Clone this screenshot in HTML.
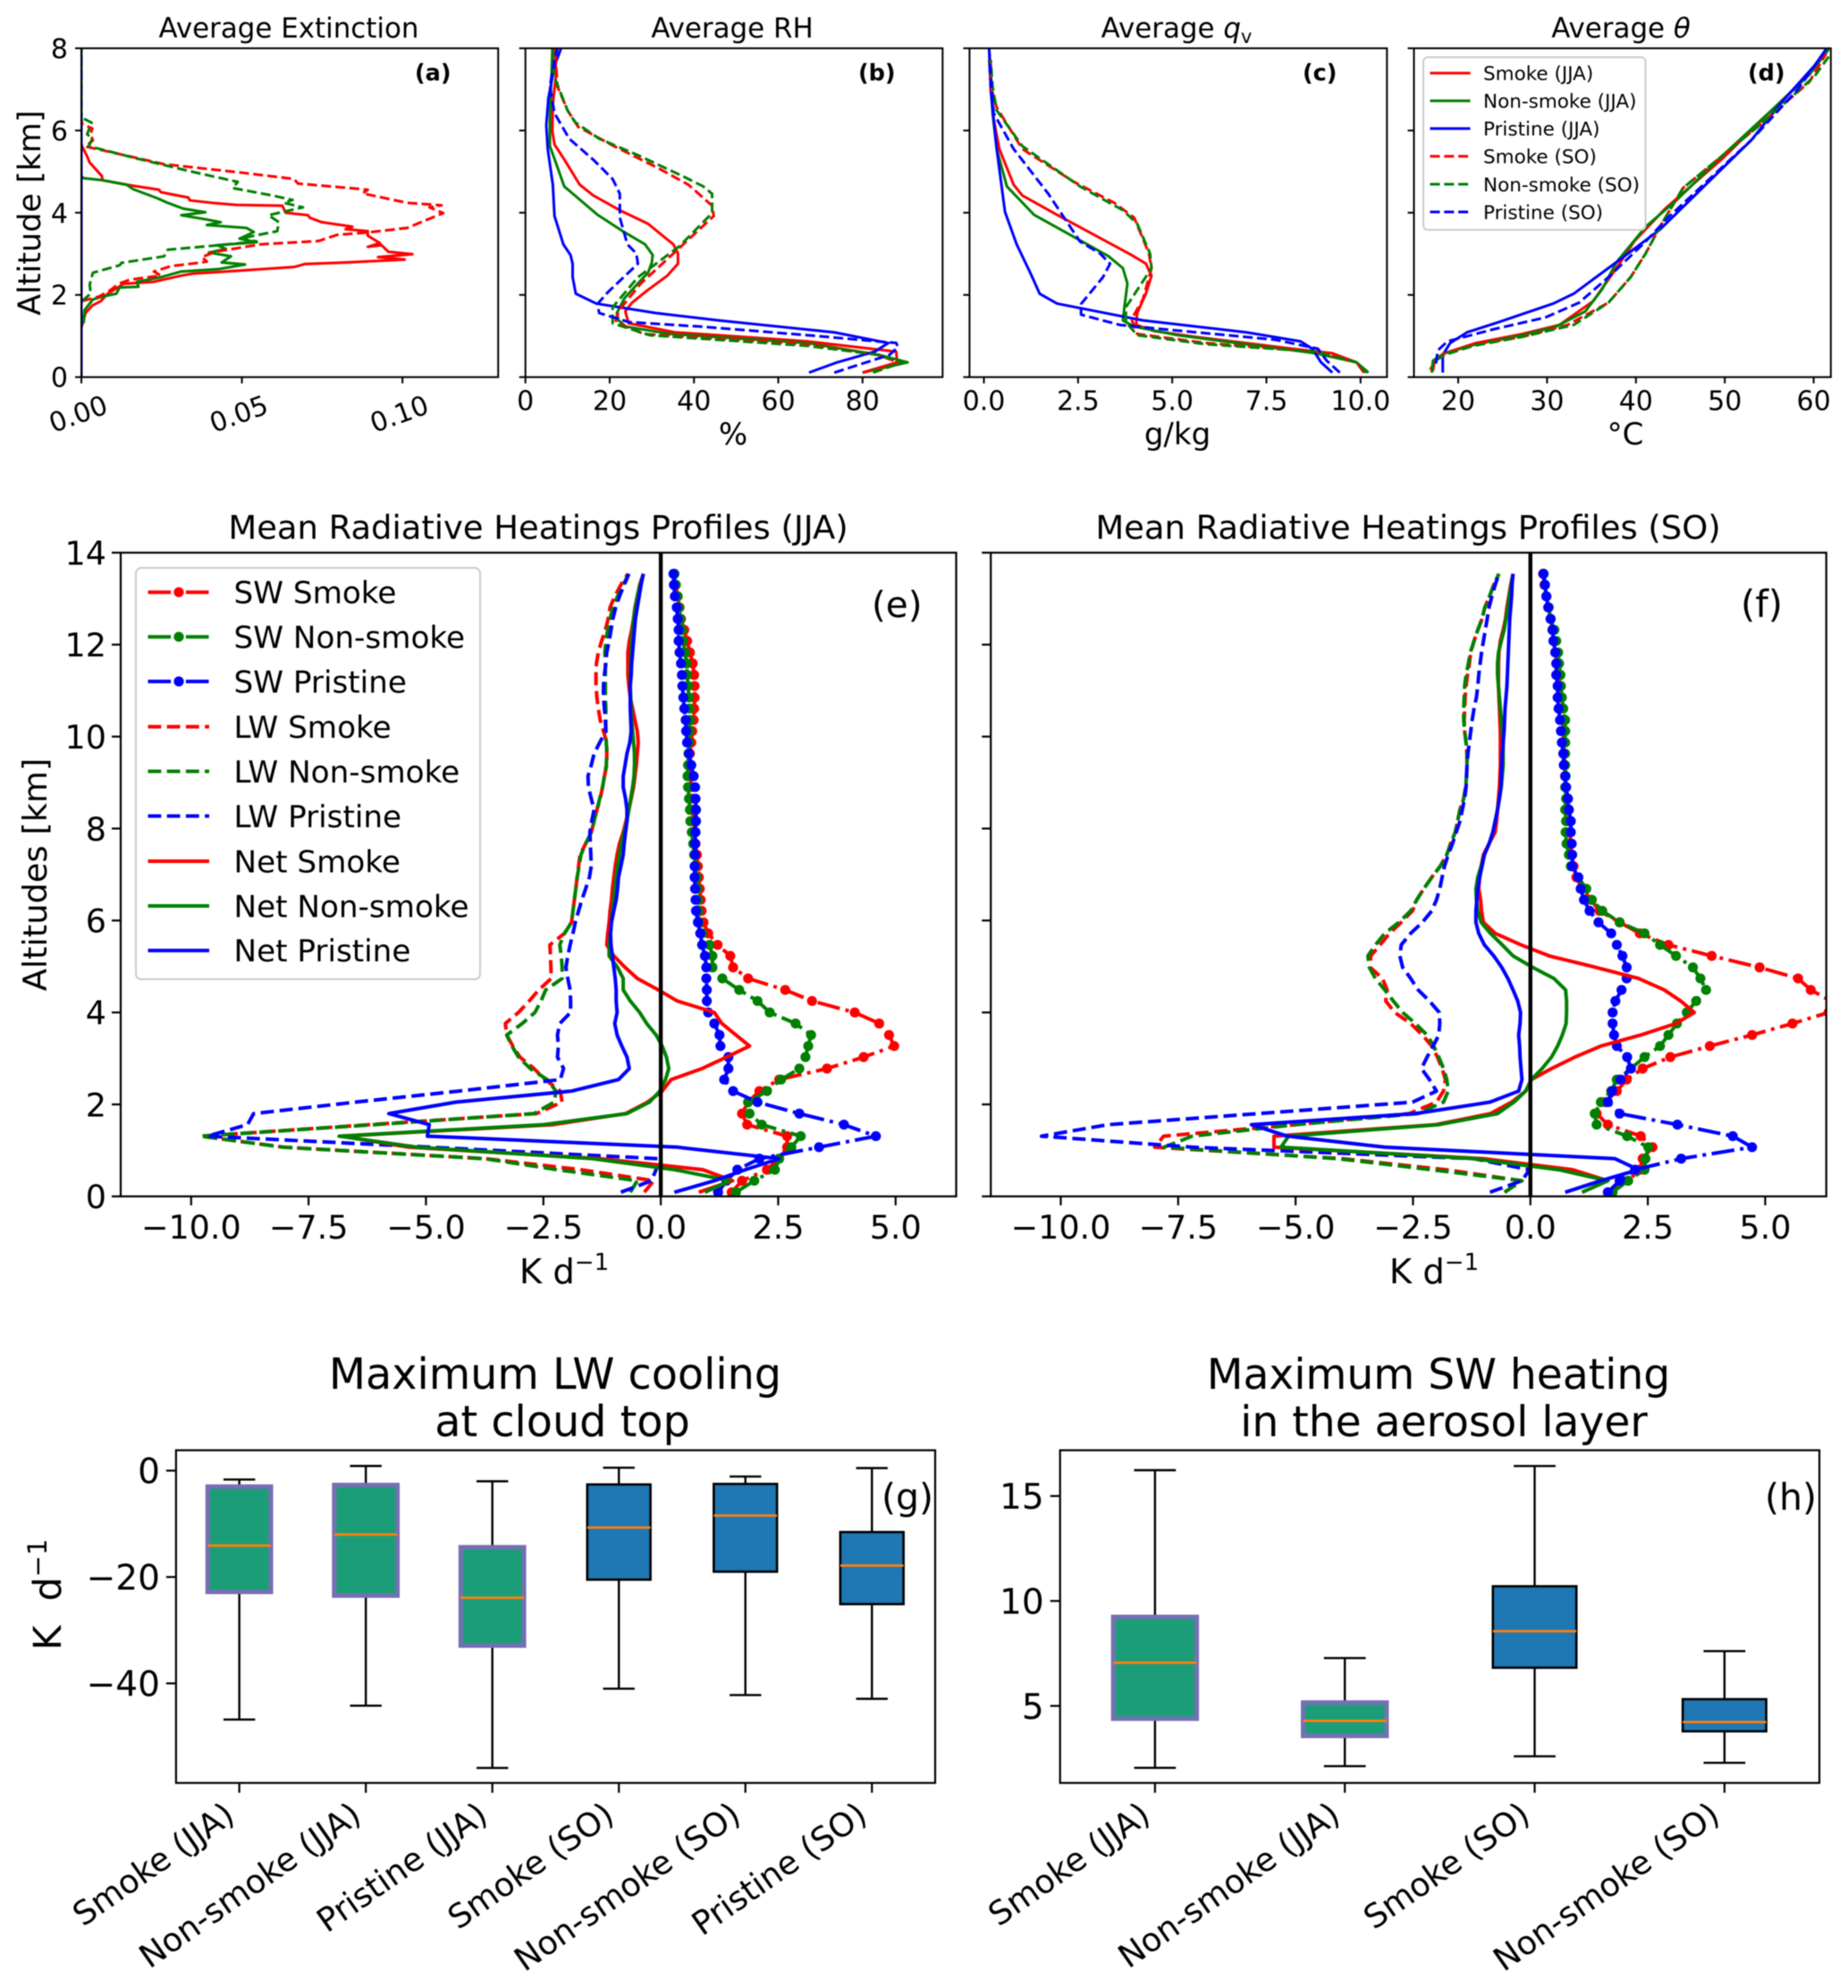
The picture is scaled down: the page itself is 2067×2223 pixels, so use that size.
<!DOCTYPE html>
<html lang="en">
<head>
<meta charset="utf-8">
<title>Aerosol, humidity and radiative heating profiles</title>
<style>
html,body{margin:0;padding:0;background:#fff;}
svg{display:block;filter:blur(0.6px);}
text{font-family:"DejaVu Sans","Liberation Sans",sans-serif;fill:#000;}
</style>
</head>
<body>
<svg id="figure" xmlns="http://www.w3.org/2000/svg" width="2067" height="2223" viewBox="0 0 2067 2223">
<rect width="2067" height="2223" fill="#fff"/>
<g id="charts"></g>

<g>
<text x="323" y="42" font-size="30.9" text-anchor="middle">Average Extinction</text>
<text x="819" y="42" font-size="30.9" text-anchor="middle">Average RH</text>
<text x="1316" y="42" font-size="30.9" text-anchor="middle">Average <tspan font-style="italic">q</tspan><tspan font-size="21" dy="6">v</tspan></text>
<text x="1813" y="42" font-size="30.9" text-anchor="middle">Average <tspan font-style="italic">θ</tspan></text>
<text x="602" y="602.5" font-size="36.9" text-anchor="middle">Mean Radiative Heatings Profiles (JJA)</text>
<text x="1575" y="602.5" font-size="36.9" text-anchor="middle">Mean Radiative Heatings Profiles (SO)</text>
<text x="621" y="1553" font-size="47.7" text-anchor="middle">Maximum LW cooling</text>
<text x="629" y="1606" font-size="47.7" text-anchor="middle">at cloud top</text>
<text x="1609" y="1553" font-size="47.2" text-anchor="middle">Maximum SW heating</text>
<text x="1615" y="1606" font-size="47.2" text-anchor="middle">in the aerosol layer</text>
</g>

<g>
<text transform="translate(45,238) rotate(-90)" font-size="35" text-anchor="middle">Altitude [km]</text>
<text x="820" y="497" font-size="34" text-anchor="middle">%</text>
<text x="1317" y="497" font-size="34" text-anchor="middle">g/kg</text>
<text x="1818" y="497" font-size="34" text-anchor="middle">°C</text>
<text transform="translate(52,978) rotate(-90)" font-size="36.8" text-anchor="middle">Altitudes [km]</text>
<text x="631" y="1435" font-size="38.5" text-anchor="middle">K d<tspan font-size="26" dy="-15">−1</tspan></text>
<text x="1604" y="1435" font-size="38.5" text-anchor="middle">K d<tspan font-size="26" dy="-15">−1</tspan></text>
<text transform="translate(68,1783) rotate(-90)" font-size="42.5" text-anchor="middle">K&#160;&#160;d<tspan font-size="29" dy="-16">−1</tspan></text>
</g>

<g>
<text x="464" y="90" font-size="25.5" font-weight="bold">(a)</text>
<text x="960" y="90" font-size="25.5" font-weight="bold">(b)</text>
<text x="1457" y="90" font-size="25.5" font-weight="bold">(c)</text>
<text x="1955" y="90" font-size="25.5" font-weight="bold">(d)</text>
<text x="975" y="690" font-size="40.5">(e)</text>
<text x="1947" y="690" font-size="41.5">(f)</text>
<text x="986" y="1688" font-size="41">(g)</text>
<text x="1974" y="1688" font-size="41">(h)</text>
</g>

<g>
<rect x="1592" y="64" width="248.5" height="193" rx="5" fill="#fff" fill-opacity="0.85" stroke="#ccc" stroke-width="2"/>
<g stroke-width="3" fill="none">
<line x1="1599.5" x2="1644.5" y1="81.7" y2="81.7" stroke="#ff0000"/>
<line x1="1599.5" x2="1644.5" y1="112.7" y2="112.7" stroke="#008000"/>
<line x1="1599.5" x2="1644.5" y1="143.7" y2="143.7" stroke="#0000ff"/>
<line x1="1599.5" x2="1644.5" y1="174.7" y2="174.7" stroke="#ff0000" stroke-dasharray="11 4.8"/>
<line x1="1599.5" x2="1644.5" y1="206" y2="206" stroke="#008000" stroke-dasharray="11 4.8"/>
<line x1="1599.5" x2="1644.5" y1="237" y2="237" stroke="#0000ff" stroke-dasharray="11 4.8"/>
</g>
<g font-size="21.5">
<text x="1659" y="89.5">Smoke (JJA)</text>
<text x="1659" y="120.5">Non-smoke (JJA)</text>
<text x="1659" y="151.5">Pristine (JJA)</text>
<text x="1659" y="182.5">Smoke (SO)</text>
<text x="1659" y="213.8">Non-smoke (SO)</text>
<text x="1659" y="244.8">Pristine (SO)</text>
</g>
</g>

<g>
<rect x="152" y="635" width="385" height="460" rx="6" fill="#fff" fill-opacity="0.85" stroke="#ccc" stroke-width="2"/>
<g stroke-width="4" fill="none">
<line x1="165.5" x2="234" y1="662.2" y2="662.2" stroke="#ff0000" stroke-dasharray="25.6 6.4 4 6.4"/>
<line x1="165.5" x2="234" y1="712.1" y2="712.1" stroke="#008000" stroke-dasharray="25.6 6.4 4 6.4"/>
<line x1="165.5" x2="234" y1="762" y2="762" stroke="#0000ff" stroke-dasharray="25.6 6.4 4 6.4"/>
<line x1="165.5" x2="234" y1="812.6" y2="812.6" stroke="#ff0000" stroke-dasharray="14.8 6.4"/>
<line x1="165.5" x2="234" y1="862.5" y2="862.5" stroke="#008000" stroke-dasharray="14.8 6.4"/>
<line x1="165.5" x2="234" y1="912.5" y2="912.5" stroke="#0000ff" stroke-dasharray="14.8 6.4"/>
<line x1="165.5" x2="234" y1="963" y2="963" stroke="#ff0000"/>
<line x1="165.5" x2="234" y1="1013" y2="1013" stroke="#008000"/>
<line x1="165.5" x2="234" y1="1062.9" y2="1062.9" stroke="#0000ff"/>
</g>
<circle cx="200" cy="662.2" r="5.6" fill="#ff0000"/>
<circle cx="200" cy="712.1" r="5.6" fill="#008000"/>
<circle cx="200" cy="762" r="5.6" fill="#0000ff"/>
<g font-size="34.2">
<text x="261.5" y="674.5">SW Smoke</text>
<text x="261.5" y="724.4">SW Non-smoke</text>
<text x="261.5" y="774.3">SW Pristine</text>
<text x="261.5" y="824.9">LW Smoke</text>
<text x="261.5" y="874.8">LW Non-smoke</text>
<text x="261.5" y="924.8">LW Pristine</text>
<text x="261.5" y="975.3">Net Smoke</text>
<text x="261.5" y="1025.3">Net Non-smoke</text>
<text x="261.5" y="1075.2">Net Pristine</text>
</g>
</g>
</svg>

<script>
// ---------- Panel (a) extinction ----------
const aSmokeJjaX = [0,.0013,.0034,.0061,.0082,.0114,.0130,.0226,.0311,.0349,.0493,.0663,.0695,.0823,.1007,.0924,.1031,.0956,.0935,.0892,.0930,.0892,.0892,.0823,.0844,.0748,.0711,.0706,.0636,.0626,.0482,.0407,.0338,.0333,.0247,.0242,.0157,.0066,.0064,.0026,.0018,.0002,0,0];
const aSmokeJjaAlt = [1.20,1.56,1.74,1.85,2.03,2.18,2.27,2.32,2.47,2.52,2.59,2.68,2.75,2.79,2.86,2.92,2.99,3.05,3.21,3.17,3.26,3.44,3.55,3.60,3.66,3.77,3.88,3.94,4.00,4.17,4.19,4.24,4.30,4.37,4.50,4.56,4.66,4.79,4.89,5.22,5.37,5.62,5.69,8];
const aNonJjaX = [.0007,.0010,.0036,.0066,.0109,.0119,.0178,.0173,.0247,.0311,.0429,.0510,.0437,.0466,.0397,.0450,.0423,.0546,.0493,.0537,.0514,.0391,.0434,.0386,.0311,.0386,.0317,.0269,.0237,.0162,.0141,.0066,.0007,0,0];
const aNonJjaAlt = [1.31,1.63,1.89,1.96,2.03,2.18,2.20,2.32,2.43,2.57,2.63,2.74,2.79,2.94,3.03,3.12,3.21,3.28,3.37,3.53,3.63,3.70,3.77,3.84,3.94,4.01,4.10,4.24,4.35,4.57,4.68,4.79,4.84,4.89,8];
const aPriJjaX = [0,0];
const aPriJjaAlt = [0,8];
const aSmokeSoX = [.0002,.0055,.0087,.0119,.0151,.0247,.0226,.0279,.0365,.0391,.0375,.0418,.0557,.0738,.0796,.0892,.1015,.1058,.1127,.1084,.1122,.1015,.0876,.0892,.0674,.0663,.0493,.0258,.0151,.0013,.0036,.0029,.0034,.0002,0,0];
const aSmokeSoAlt = [1.85,1.96,2.10,2.28,2.37,2.47,2.57,2.70,2.78,2.81,2.92,3.05,3.23,3.31,3.46,3.52,3.63,3.77,3.99,4.13,4.18,4.24,4.47,4.56,4.71,4.82,4.98,5.18,5.37,5.61,5.76,5.91,6.05,6.16,6.27,8];
const aNonSoX = [.0002,.0029,.0026,.0036,.0119,.0125,.0258,.0269,.0429,.0546,.0493,.0610,.0615,.0583,.0690,.0631,.0658,.0594,.0471,.0487,.0343,.0167,.0023,.0034,.0018,.0032,.0002,0,0];
const aNonSoAlt = [1.85,2.03,2.25,2.54,2.72,2.78,2.94,3.10,3.21,3.30,3.37,3.55,3.77,3.94,4.13,4.24,4.31,4.42,4.60,4.75,5.00,5.33,5.62,5.80,5.91,6.19,6.31,6.42,8];
const aPriSoX = [0,0];
const aPriSoAlt = [0,8];
const aXTicks = [0,0.05,0.1];
const aXTickLabels = ['0.00','0.05','0.10'];
const altitudeTicks = [0,2,4,6,8];
const altitudeTickLabels = ['0','2','4','6','8'];

// ---------- Panel (b) RH ----------
const bSmokeJjaX = [80,88.2,88,67,35.5,24.5,23.7,25.3,28.8,33.7,36.2,36.2,35.1,29.1,22.4,16.1,12.9,9,6.9,6.4,6.5,7.2,7.2,6.9];
const bSmokeJjaAlt = [.11,.36,.62,.87,1.09,1.31,1.6,1.81,2.10,2.47,2.76,3.01,3.23,3.73,4.06,4.42,4.68,5.33,5.66,5.98,6.64,7.29,7.72,7.98];
const bNonJjaX = [80,90.7,83.9,67,34.4,23.8,22.1,21.7,23.5,26.7,29.1,30,30.2,28.4,23.1,17.1,9.2,7.6,5.8,5.8,6.2,6.4];
const bNonJjaAlt = [.11,.36,.54,.83,1.05,1.23,1.38,1.56,1.92,2.28,2.54,2.79,2.97,3.23,3.55,3.95,4.64,5.11,5.62,6.27,7.36,7.98];
const bPriJjaX = [67.3,74,82.9,86.1,73.3,45.8,30.9,16.8,11.95,11.2,11.2,10.7,9,6.9,6.5,5.3,4.95,5.45,6.9,8.4];
const bPriJjaAlt = [.11,.36,.62,.83,1.09,1.38,1.56,1.79,2.03,2.43,2.76,2.97,3.23,3.92,4.68,5.55,6.13,6.78,7.58,7.98];
const bSmokeSoX = [80,88.5,83.6,67,28.1,21.4,21.7,22.8,27.4,35.9,44.7,44.3,38.7,31.6,21,12.5,10,7.6,7.2,6.9];
const bSmokeSoAlt = [.11,.36,.54,.80,1.05,1.34,1.49,1.70,2.28,3.08,3.92,4.17,4.68,5.08,5.62,6.09,6.49,7.07,7.72,7.98];
const bNonSoX = [82.5,89.6,83.9,67,29.5,20.7,20.7,26.7,36.6,44.3,44.3,42.2,37.3,26.7,17.5,11.8,10,6.9,6.4,6.7];
const bNonSoAlt = [.11,.36,.54,.76,1.02,1.31,1.70,2.43,3.19,3.99,4.46,4.64,4.89,5.40,5.80,6.20,6.49,7.29,7.72,7.98];
const bPriSoX = [73.3,86.4,88.4,88,67,41.5,24.5,17.5,17.1,19.6,26.7,26.3,24.2,22.4,22.4,20.7,16.1,10.4,6.9,5.8,6.9,7.6];
const bPriSoAlt = [.11,.54,.73,.83,1.02,1.23,1.34,1.56,1.78,2.07,2.76,3.01,3.23,3.88,4.46,4.82,5.29,5.80,6.42,7.07,7.72,7.98];
const bXTicks = [0,20,40,60,80];
const bXTickLabels = ['0','20','40','60','80'];

// ---------- Panel (c) qv ----------
const cSmokeJjaX = [10.12,9.89,9.25,8.19,5.6,4.53,4.04,4.07,4.3,4.45,4.3,3.92,1.94,1.02,.79,.41,.26,.14];
const cSmokeJjaAlt = [.11,.36,.58,.69,.98,1.12,1.27,1.56,2.03,2.47,2.76,2.97,3.95,4.42,4.68,5.55,6.27,7.98];
const cNonJjaX = [10.21,9.89,8.8,5.14,3.99,3.69,3.73,3.81,3.69,3.31,2.47,1.33,.61,.34,.23,.14];
const cNonJjaAlt = [.11,.36,.58,1.02,1.23,1.38,1.70,2.28,2.65,2.94,3.37,3.95,4.64,5.55,6.42,7.72];
const cPriJjaX = [9.25,8.95,8.72,8.41,6.97,4.22,1.94,1.48,1.25,.87,.56,.34,.18,.14];
const cPriJjaAlt = [.11,.36,.69,.87,1.09,1.38,1.79,2.03,2.50,3.23,4.02,5.55,7.0,7.98];
const cSmokeSoX = [10.09,9.89,8.8,5.9,4.07,3.92,4.22,4.45,4.38,3.99,3.46,2.39,1.02,.34,.18,.18];
const cSmokeSoAlt = [.11,.36,.62,.83,1.05,1.41,1.89,2.65,3.01,3.88,4.24,4.75,5.55,6.56,7.07,7.72];
const cNonSoX = [10.17,9.89,8.8,5.9,4.07,3.77,3.77,4.45,4.41,4.07,3.69,2.55,1.02,.34,.23,.18];
const cNonSoAlt = [.11,.36,.62,.80,1.02,1.34,1.70,2.65,3.01,3.73,4.06,4.64,5.62,6.49,7.07,7.72];
const cPriSoX = [9.45,9.10,8.87,7.73,4.83,3.61,2.58,2.58,3.16,3.35,3.08,2.55,1.71,.79,.26,.18,.14];
const cPriSoAlt = [.11,.40,.69,.91,1.16,1.27,1.52,1.78,2.43,2.76,3.01,3.30,4.46,5.55,6.42,7.36,7.98];
const cXTicks = [0,2.5,5,7.5,10];
const cXTickLabels = ['0.0','2.5','5.0','7.5','10.0'];

// ---------- Panel (d) theta ----------
const dSmokeJjaX = [17.16,17.35,18.45,22,27.2,31.4,35.2,37.8,39.8,43.3,49.8,55.6,59.5,61.7];
const dSmokeJjaAlt = [.15,.40,.58,.83,1.05,1.27,1.85,2.65,3.30,4.10,5.33,6.56,7.36,7.98];
const dNonJjaX = [17.03,17.16,18.45,22,27.2,31,34.3,36.2,37.8,41.1,44.6,49.1,55.6,59.5,61.7];
const dNonJjaAlt = [.11,.40,.58,.80,1.02,1.23,1.60,2.14,2.79,3.66,4.31,5.26,6.56,7.36,7.98];
const dPriJjaX = [18.26,18.26,19.1,21,24.6,30.7,33,38.2,42.7,48.5,53,56.2,60.1,61.4];
const dPriJjaAlt = [.11,.54,.83,1.09,1.34,1.79,2.03,2.86,3.59,4.82,5.77,6.64,7.58,7.98];
const dSmokeSoX = [16.84,17.35,18.45,21.7,27.2,32.3,36.9,39.4,41.1,42.7,45.3,54.3,59.5,61.4];
const dSmokeSoAlt = [.18,.36,.58,.80,.98,1.27,1.81,2.43,3.01,3.66,4.60,6.20,7.18,7.87];
const dNonSoX = [17.03,17.16,18.45,21.7,27.2,33,36.9,39.4,41.1,42.7,45.3,54.3,60.1,61.7];
const dNonSoAlt = [.11,.36,.54,.76,.98,1.27,1.81,2.43,3.01,3.66,4.60,6.20,7.32,7.80];
const dPriSoX = [17.5,17.7,18.8,23.9,29.8,33.6,36.9,41.1,43.6,53,58.2,61.1];
const dPriSoAlt = [.33,.65,.87,1.16,1.45,1.81,2.43,3.30,3.88,5.77,7,7.87];
const dXTicks = [20,30,40,50,60];
const dXTickLabels = ['20','30','40','50','60'];

// ---------- Panels (e)(f) heating rates, one value per model level ----------
const levels = [.09,.34,.58,.82,1.07,1.31,1.56,1.80,2.05,2.29,
2.54,2.78,3.03,3.27,3.51,3.76,4.00,4.25,4.49,4.74,
4.98,5.23,5.47,5.72,5.96,6.21,6.45,6.69,6.94,7.18,
7.43,7.67,7.92,8.16,8.41,8.65,8.90,9.14,9.38,9.63,
9.87,10.12,10.36,10.61,10.85,11.10,11.34,11.59,11.83,12.08,
12.32,12.56,12.81,13.05,13.30,13.54];
const eSwSmoke = [1.51,1.73,2.26,2.52,2.69,2.69,1.84,1.73,1.86,2.10,
2.52,3.54,4.32,4.97,4.86,4.65,4.13,3.22,2.65,1.86,
1.54,1.48,1.21,1.01,.91,.87,.85,.83,.81,.79,
.77,.74,.72,.70,.68,.66,.65,.63,.62,.62,
.65,.67,.70,.71,.72,.72,.71,.68,.62,.56,
.50,.43,.40,.36,.32,.29];
const eSwNon = [1.60,1.99,2.43,2.52,2.78,2.98,2.15,1.89,1.86,2.26,
2.56,2.95,3.08,3.14,3.20,2.87,2.32,2.06,1.67,1.31,
1.10,1.10,1.04,.88,.81,.80,.79,.78,.76,.74,
.71,.69,.66,.63,.62,.60,.58,.57,.58,.59,
.60,.61,.62,.61,.60,.58,.56,.55,.52,.47,
.45,.42,.39,.36,.32,.29];
const eSwPri = [1.22,1.40,1.63,2.10,3.37,4.58,3.90,2.95,2.06,1.54,
1.35,1.44,1.44,1.27,1.25,1.14,1.01,.98,.98,.97,
.97,.94,.88,.84,.79,.75,.74,.73,.72,.72,
.73,.73,.74,.75,.75,.74,.73,.70,.65,.60,
.56,.54,.53,.50,.48,.46,.45,.43,.40,.38,
.38,.36,.34,.30,.28,.27];
const eLwSmoke = [-.35,-.15,-1.7,-3.73,-8.04,-9.78,-6.2,-2.65,-2.1,-2.14,
-2.46,-2.7,-3.0,-3.15,-3.28,-3.31,-3.03,-2.8,-2.6,-2.33,
-2.34,-2.35,-2.36,-2.05,-1.9,-1.87,-1.84,-1.81,-1.78,-1.75,
-1.72,-1.6,-1.48,-1.42,-1.36,-1.29,-1.24,-1.2,-1.15,-1.15,
-1.15,-1.22,-1.29,-1.33,-1.36,-1.38,-1.38,-1.37,-1.33,-1.26,
-1.18,-1.12,-1.08,-.98,-.85,-.7];
const eLwNon = [-.65,-.5,-2.2,-3.75,-8.04,-9.8,-6.1,-2.7,-2.27,-2.23,
-2.42,-2.78,-3.03,-3.17,-3.28,-2.95,-2.68,-2.55,-2.45,-2.1,
-2.1,-2.12,-2.15,-2.05,-1.9,-1.87,-1.84,-1.81,-1.78,-1.74,
-1.7,-1.6,-1.48,-1.42,-1.36,-1.3,-1.24,-1.2,-1.16,-1.15,
-1.16,-1.17,-1.17,-1.17,-1.18,-1.18,-1.18,-1.18,-1.19,-1.17,
-1.13,-1.08,-1.02,-.92,-.8,-.68];
const eLwPri = [-.85,-.2,-.1,-.05,-4.9,-9.65,-8.8,-8.67,-6.5,-4.3,
-2.14,-2.07,-2.2,-2.18,-2.2,-2.15,-1.92,-1.92,-1.93,-1.98,
-2.02,-1.98,-1.93,-1.87,-1.82,-1.75,-1.68,-1.6,-1.52,-1.48,
-1.49,-1.5,-1.51,-1.47,-1.42,-1.48,-1.54,-1.55,-1.48,-1.42,
-1.3,-1.17,-1.18,-1.2,-1.22,-1.22,-1.2,-1.17,-1.15,-1.1,
-1.06,-1.02,-.96,-.88,-.78,-.68];
const eNetSmoke = [.81,1.53,.9,-1.3,-5.37,-6.8,-2.3,-.75,-.28,.03,
.22,.88,1.4,1.89,1.6,1.3,1.14,.35,-.05,-.5,
-.76,-1.0,-1.15,-1.13,-1.1,-1.08,-1.05,-1.03,-1.0,-.97,
-.93,-.88,-.8,-.74,-.68,-.63,-.58,-.55,-.52,-.5,
-.48,-.5,-.55,-.6,-.65,-.68,-.7,-.7,-.7,-.67,
-.62,-.58,-.55,-.5,-.45,-.37];
const eNetNon = [.94,1.47,.3,-1.45,-5.2,-6.85,-2.5,-.72,-.24,-.02,
.1,.17,.12,.03,-.1,-.3,-.45,-.65,-.8,-.8,
-.92,-1.1,-1.1,-1.07,-1.05,-1.03,-1.0,-.98,-.95,-.92,
-.88,-.84,-.78,-.72,-.68,-.64,-.6,-.57,-.56,-.56,
-.58,-.6,-.62,-.63,-.64,-.65,-.65,-.64,-.63,-.62,
-.6,-.58,-.54,-.5,-.44,-.37];
const eNetPri = [.29,1.14,1.8,2.52,.35,-4.97,-4.93,-5.79,-4.36,-1.9,
-.9,-.67,-.72,-.83,-.93,-.98,-.93,-.95,-.95,-.97,
-1.0,-1.03,-1.06,-1.07,-1.05,-1.0,-.95,-.92,-.9,-.85,
-.8,-.78,-.75,-.72,-.72,-.75,-.8,-.8,-.76,-.72,
-.66,-.63,-.64,-.65,-.65,-.65,-.63,-.62,-.6,-.58,
-.56,-.54,-.5,-.46,-.42,-.37];
const fSwSmoke = [1.65,2.08,2.33,2.39,2.6,2.35,1.65,1.41,1.59,1.84,
2.05,2.39,2.98,3.82,4.72,5.58,6.35,6.4,5.97,5.7,
4.88,3.86,2.94,2.33,1.9,1.47,1.29,1.1,.98,.92,
.88,.86,.84,.82,.8,.78,.76,.74,.73,.72,
.71,.7,.69,.67,.65,.63,.6,.57,.53,.5,
.47,.43,.38,.34,.3,.27];
const fSwNon = [1.75,2.08,2.43,2.45,2.51,2.06,1.41,1.37,1.5,1.72,
1.84,2.14,2.43,2.76,2.94,3.12,3.33,3.53,3.74,3.62,
3.46,3.1,2.76,2.43,1.9,1.53,1.31,1.19,1.02,.86,
.82,.77,.75,.76,.74,.76,.74,.75,.74,.74,
.74,.74,.74,.7,.67,.65,.64,.61,.59,.55,
.51,.43,.39,.34,.31,.28];
const fSwPri = [1.65,1.9,2.23,3.21,4.72,4.31,3.13,1.9,1.65,1.74,
1.92,2.14,2.06,1.84,1.78,1.75,1.75,1.81,1.94,2.05,
2.05,1.96,1.84,1.72,1.45,1.26,1.14,1.07,1.02,.89,
.89,.88,.86,.86,.82,.8,.76,.74,.71,.7,
.67,.65,.63,.6,.58,.58,.55,.55,.53,.49,
.47,.43,.38,.34,.31,.28];
const fLwSmoke = [-.55,-.18,-1.8,-4.0,-8.0,-7.81,-5.0,-2.58,-2.0,-1.85,
-1.81,-1.88,-1.98,-2.1,-2.3,-2.55,-2.89,-3.08,-3.05,-3.15,
-3.41,-3.4,-3.2,-3.0,-2.75,-2.51,-2.42,-2.27,-2.1,-1.92,
-1.78,-1.7,-1.6,-1.55,-1.5,-1.42,-1.38,-1.36,-1.35,-1.35,
-1.37,-1.4,-1.41,-1.4,-1.39,-1.37,-1.34,-1.3,-1.27,-1.2,
-1.12,-1.03,-.97,-.87,-.78,-.67];
const fLwNon = [-.55,-.18,-2.1,-4.1,-7.8,-7.2,-5.0,-2.4,-1.85,-1.75,
-1.78,-1.85,-1.95,-2.06,-2.2,-2.45,-2.72,-2.92,-3.1,-3.3,
-3.43,-3.46,-3.3,-3.1,-2.8,-2.55,-2.42,-2.27,-2.1,-1.92,
-1.78,-1.7,-1.6,-1.55,-1.5,-1.42,-1.38,-1.36,-1.35,-1.35,
-1.37,-1.4,-1.42,-1.42,-1.41,-1.4,-1.37,-1.32,-1.28,-1.2,
-1.12,-1.03,-.97,-.87,-.78,-.67];
const fLwPri = [-.86,-.18,-.02,-1.2,-7.2,-10.41,-8.99,-5.8,-2.51,-2.0,
-2.15,-2.32,-2.2,-2.07,-1.95,-1.93,-1.94,-2.15,-2.39,-2.55,
-2.72,-2.78,-2.75,-2.55,-2.3,-2.1,-2.0,-1.93,-1.88,-1.83,
-1.75,-1.66,-1.58,-1.5,-1.45,-1.4,-1.37,-1.36,-1.35,-1.33,
-1.3,-1.27,-1.24,-1.2,-1.15,-1.12,-1.1,-1.07,-1.04,-1.0,
-.96,-.92,-.88,-.82,-.75,-.67];
const fNetSmoke = [1.1,1.65,.9,-1.0,-5.46,-5.46,-2.02,-.85,-.4,-.1,
.02,.45,.95,1.5,2.35,3.1,3.49,3.2,2.85,2.3,
1.4,.4,-.2,-.75,-1.0,-1.04,-1.06,-1.1,-1.08,-1.05,
-1.0,-.88,-.75,-.72,-.7,-.68,-.66,-.65,-.64,-.64,
-.64,-.64,-.65,-.66,-.67,-.68,-.68,-.68,-.67,-.64,
-.58,-.53,-.5,-.46,-.42,-.37];
const fNetNon = [1.1,1.65,.6,-1.2,-5.31,-5.15,-1.95,-.7,-.35,-.1,
.02,.25,.45,.58,.68,.76,.77,.77,.75,.5,
.05,-.37,-.6,-.85,-1.05,-1.12,-1.15,-1.16,-1.12,-1.05,
-.98,-.88,-.8,-.75,-.7,-.66,-.62,-.6,-.58,-.58,
-.58,-.6,-.62,-.64,-.66,-.68,-.7,-.7,-.68,-.62,
-.56,-.52,-.48,-.45,-.41,-.37];
const fNetPri = [.74,1.5,2.3,1.8,-3.1,-5.18,-5.94,-2.45,-.86,-.25,
-.18,-.2,-.22,-.23,-.25,-.22,-.21,-.27,-.37,-.48,
-.61,-.78,-.98,-1.1,-1.16,-1.16,-1.14,-1.12,-1.08,-1.03,
-.98,-.88,-.8,-.75,-.7,-.66,-.63,-.62,-.61,-.6,
-.58,-.56,-.55,-.54,-.52,-.5,-.49,-.48,-.47,-.46,
-.45,-.44,-.42,-.4,-.39,-.37];
const heatingXTicks = [-10,-7.5,-5,-2.5,0,2.5,5];
const heatingXTickLabels = ['−10.0','−7.5','−5.0','−2.5','0.0','2.5','5.0'];
const heatingYTicks = [0,2,4,6,8,10,12,14];
const heatingYTickLabels = ['0','2','4','6','8','10','12','14'];

// ---------- Panel (g) LW cooling boxes ----------
const gCategories = ['Smoke (JJA)','Non-smoke (JJA)','Pristine (JJA)','Smoke (SO)','Non-smoke (SO)','Pristine (SO)'];
const gSeasons = ['JJA','JJA','JJA','SO','SO','SO'];
const gWhiskerHigh = [-1.67,.88,-2,.56,-1.1,.48];
const gQ3 = [-3.0,-2.7,-14.4,-2.6,-2.5,-11.55];
const gMedian = [-14.1,-12,-23.9,-10.7,-8.45,-17.85];
const gQ1 = [-22.8,-23.5,-32.9,-20.5,-19,-25.1];
const gWhiskerLow = [-46.8,-44.2,-55.9,-41,-42.2,-42.9];
const gYTicks = [0,-20,-40];
const gYTickLabels = ['0','−20','−40'];

// ---------- Panel (h) SW heating boxes ----------
const hCategories = ['Smoke (JJA)','Non-smoke (JJA)','Smoke (SO)','Non-smoke (SO)'];
const hSeasons = ['JJA','JJA','SO','SO'];
const hWhiskerHigh = [16.23,7.28,16.43,7.61];
const hQ3 = [9.24,5.16,10.7,5.32];
const hMedian = [7.06,4.29,8.56,4.23];
const hQ1 = [4.39,3.57,6.82,3.79];
const hWhiskerLow = [2.05,2.13,2.6,2.29];
const hYTicks = [5,10,15];
const hYTickLabels = ['5','10','15'];

// ---------- Drawing ----------
const SVGNS = 'http://www.w3.org/2000/svg';
const root = document.getElementById('charts');
const RED = '#ff0000', GREEN = '#008000', BLUE = '#0000ff';

function mk(parent, tag, attrs, name) {
  const el = document.createElementNS(SVGNS, tag);
  for (const k in attrs) el.setAttribute(k, attrs[k]);
  
  
  parent.appendChild(el);
  return el;
}
function scale(d0, d1, p0, p1) { return v => p0 + (v - d0) / (d1 - d0) * (p1 - p0); }

function makePanel(id, box, xDomain, yDomain) {
  const g = mk(root, 'g', {}, 'panel-' + id);
  const defs = mk(g, 'defs', {}, 'panel-' + id + '-defs');
  const clip = mk(defs, 'clipPath', {id: 'clip-' + id}, 'panel-' + id + '-clip');
  mk(clip, 'rect', {x: box.l, y: box.t, width: box.r - box.l, height: box.b - box.t}, 'panel-' + id + '-clip-rect');
  const plot = mk(g, 'g', {'clip-path': 'url(#clip-' + id + ')'}, 'panel-' + id + '-plot');
  return {id, g, plot, box, x: scale(xDomain[0], xDomain[1], box.l, box.r), y: scale(yDomain[0], yDomain[1], box.b, box.t)};
}
function finishPanel(p, opt) {
  const b = p.box, len = opt.tickLen, sw = opt.spine;
  mk(p.g, 'rect', {x: b.l, y: b.t, width: b.r - b.l, height: b.b - b.t, fill: 'none', stroke: '#000', 'stroke-width': sw}, 'panel-' + p.id + '-frame');
  (opt.xTicks || []).forEach((v, i) => {
    const px = p.x(v);
    mk(p.g, 'line', {x1: px, x2: px, y1: b.b, y2: b.b + len, stroke: '#000', 'stroke-width': sw}, 'panel-' + p.id + '-x-tick');
    const lab = opt.xLabels[i];
    if (opt.xRotate) {
      const t = mk(p.g, 'text', {transform: 'translate(' + (px + opt.xDx) + ',' + (b.b + opt.xDy) + ') rotate(' + opt.xRotate + ')', 'font-size': opt.xTickSize || opt.tickSize, 'text-anchor': opt.xAnchor}, 'panel-' + p.id + '-x-tick-label');
      t.textContent = lab;
    } else {
      const t = mk(p.g, 'text', {x: px, y: b.b + opt.xDy, 'font-size': opt.tickSize, 'text-anchor': 'middle'}, 'panel-' + p.id + '-x-tick-label');
      t.textContent = lab;
    }
  });
  (opt.yTicks || []).forEach((v, i) => {
    const py = p.y(v);
    mk(p.g, 'line', {x1: b.l - len, x2: b.l, y1: py, y2: py, stroke: '#000', 'stroke-width': sw}, 'panel-' + p.id + '-y-tick');
    if (opt.yLabels) {
      const t = mk(p.g, 'text', {x: b.l - len - opt.yGap, y: py + opt.tickSize * 0.364, 'font-size': opt.tickSize, 'text-anchor': 'end'}, 'panel-' + p.id + '-y-tick-label');
      t.textContent = opt.yLabels[i];
    }
  });
}
function drawLine(p, xs, ys, color, lw, dash, name) {
  const n = Math.min(xs.length, ys.length);
  let d = '';
  for (let i = 0; i < n; i++) d += (i ? 'L' : 'M') + p.x(xs[i]).toFixed(2) + ' ' + p.y(ys[i]).toFixed(2);
  const attrs = {d, fill: 'none', stroke: color, 'stroke-width': lw, 'stroke-linejoin': 'round'};
  if (dash) attrs['stroke-dasharray'] = dash;
  return mk(p.plot, 'path', attrs, name);
}
function drawMarkers(p, xs, ys, color, r, name) {
  const n = Math.min(xs.length, ys.length);
  for (let i = 0; i < n; i++) {
    mk(p.plot, 'circle', {cx: p.x(xs[i]).toFixed(2), cy: p.y(ys[i]).toFixed(2), r, fill: color}, name + '-point');
  }
}

// Profile panels (a)-(d)
const PROFILE_LW = 3, PROFILE_DASH = '11 4.8';
function profilePanel(id, box, xDomain, s, tickOpt) {
  const p = makePanel(id, box, xDomain, [0, 8]);
  drawLine(p, s[0][0], s[0][1], RED, PROFILE_LW, null, id + '-smoke-jja-line');
  drawLine(p, s[1][0], s[1][1], GREEN, PROFILE_LW, null, id + '-non-smoke-jja-line');
  drawLine(p, s[2][0], s[2][1], BLUE, PROFILE_LW, null, id + '-pristine-jja-line');
  drawLine(p, s[3][0], s[3][1], RED, PROFILE_LW, PROFILE_DASH, id + '-smoke-so-line');
  drawLine(p, s[4][0], s[4][1], GREEN, PROFILE_LW, PROFILE_DASH, id + '-non-smoke-so-line');
  drawLine(p, s[5][0], s[5][1], BLUE, PROFILE_LW, PROFILE_DASH, id + '-pristine-so-line');
  finishPanel(p, Object.assign({tickLen: 7, spine: 2, tickSize: 30, yTicks: altitudeTicks, xDy: 37}, tickOpt));
}
const topBox = {t: 54, b: 421.7};
profilePanel('a', {l: 91, r: 557.2, t: topBox.t, b: topBox.b}, [0, 0.1298],
  [[aSmokeJjaX, aSmokeJjaAlt],[aNonJjaX, aNonJjaAlt],[aPriJjaX, aPriJjaAlt],[aSmokeSoX, aSmokeSoAlt],[aNonSoX, aNonSoAlt],[aPriSoX, aPriSoAlt]],
  {xTicks: aXTicks, xLabels: aXTickLabels, xRotate: -20, xDx: 0, xDy: 51, xAnchor: 'middle', yLabels: altitudeTickLabels, yGap: 8});
profilePanel('b', {l: 587.7, r: 1054.3, t: topBox.t, b: topBox.b}, [0, 99],
  [[bSmokeJjaX, bSmokeJjaAlt],[bNonJjaX, bNonJjaAlt],[bPriJjaX, bPriJjaAlt],[bSmokeSoX, bSmokeSoAlt],[bNonSoX, bNonSoAlt],[bPriSoX, bPriSoAlt]],
  {xTicks: bXTicks, xLabels: bXTickLabels});
profilePanel('c', {l: 1084.4, r: 1551.3, t: topBox.t, b: topBox.b}, [-0.382, 10.7],
  [[cSmokeJjaX, cSmokeJjaAlt],[cNonJjaX, cNonJjaAlt],[cPriJjaX, cPriJjaAlt],[cSmokeSoX, cSmokeSoAlt],[cNonSoX, cNonSoAlt],[cPriSoX, cPriSoAlt]],
  {xTicks: cXTicks, xLabels: cXTickLabels});
profilePanel('d', {l: 1581.5, r: 2047.8, t: topBox.t, b: topBox.b}, [15.02, 61.93],
  [[dSmokeJjaX, dSmokeJjaAlt],[dNonJjaX, dNonJjaAlt],[dPriJjaX, dPriJjaAlt],[dSmokeSoX, dSmokeSoAlt],[dNonSoX, dNonSoAlt],[dPriSoX, dPriSoAlt]],
  {xTicks: dXTicks, xLabels: dXTickLabels});

// Heating panels (e)-(f)
const HEAT_LW = 4, HEAT_DASH = '14.8 6.4', HEAT_DASHDOT = '25.6 6.4 4 6.4', HEAT_R = 5.6;
function heatingPanel(id, box, xDomain, sw, lw, net, showLabels) {
  const p = makePanel(id, box, xDomain, [0, 14]);
  const names = ['smoke', 'non-smoke', 'pristine'], colors = [RED, GREEN, BLUE];
  sw.forEach((v, i) => {
    drawLine(p, v, levels, colors[i], HEAT_LW, HEAT_DASHDOT, id + '-sw-' + names[i] + '-line');
    drawMarkers(p, v, levels, colors[i], HEAT_R, id + '-sw-' + names[i]);
  });
  lw.forEach((v, i) => drawLine(p, v, levels, colors[i], HEAT_LW, HEAT_DASH, id + '-lw-' + names[i] + '-line'));
  net.forEach((v, i) => drawLine(p, v, levels, colors[i], HEAT_LW, null, id + '-net-' + names[i] + '-line'));
  mk(p.plot, 'line', {x1: p.x(0), x2: p.x(0), y1: box.t, y2: box.b, stroke: '#000', 'stroke-width': 4.4}, id + '-zero-line');
  finishPanel(p, {tickLen: 10, spine: 2.2, tickSize: 36.5, xTicks: heatingXTicks, xLabels: heatingXTickLabels, xDy: 47,
    yTicks: heatingYTicks, yLabels: showLabels ? heatingYTickLabels : null, yGap: 6});
}
const midBox = {t: 618, b: 1337.8};
heatingPanel('e', {l: 135, r: 1069.5, t: midBox.t, b: midBox.b}, [-11.5, 6.29],
  [eSwSmoke, eSwNon, eSwPri], [eLwSmoke, eLwNon, eLwPri], [eNetSmoke, eNetNon, eNetPri], true);
heatingPanel('f', {l: 1108.2, r: 2042.7, t: midBox.t, b: midBox.b}, [-11.49, 6.3],
  [fSwSmoke, fSwNon, fSwPri], [fLwSmoke, fLwNon, fLwPri], [fNetSmoke, fNetNon, fNetPri], false);

// Box panels (g)-(h)
function boxPanel(id, box, yDomain, cats, seasons, low, q1, med, q3, high, boxW, yTicks, yLabels) {
  const p = makePanel(id, box, [0.5, cats.length + 0.5], yDomain);
  const ticks = cats.map((c, i) => i + 1);
  cats.forEach((c, i) => {
    const cx = i + 1, unit = c.toLowerCase().replace(/[^a-z]+/g, '-').replace(/-$/, '');
    const px = p.x(cx), halfW = boxW / 2 * (p.x(1) - p.x(0)), capW = halfW * 0.5;
    mk(p.plot, 'line', {x1: px, x2: px, y1: p.y(high[i]), y2: p.y(q3[i]), stroke: '#000', 'stroke-width': 2.4}, id + '-whisker-high-' + unit);
    mk(p.plot, 'line', {x1: px, x2: px, y1: p.y(q1[i]), y2: p.y(low[i]), stroke: '#000', 'stroke-width': 2.4}, id + '-whisker-low-' + unit);
    mk(p.plot, 'line', {x1: px - capW, x2: px + capW, y1: p.y(high[i]), y2: p.y(high[i]), stroke: '#000', 'stroke-width': 2.4}, id + '-cap-high-' + unit);
    mk(p.plot, 'line', {x1: px - capW, x2: px + capW, y1: p.y(low[i]), y2: p.y(low[i]), stroke: '#000', 'stroke-width': 2.4}, id + '-cap-low-' + unit);
    const isJja = seasons[i] === 'JJA';
    mk(p.plot, 'rect', {x: px - halfW, y: p.y(q3[i]), width: 2 * halfW, height: p.y(q1[i]) - p.y(q3[i]),
      fill: isJja ? '#1b9e77' : '#1f77b4', stroke: isJja ? '#7570b3' : '#000', 'stroke-width': isJja ? 5 : 2.6}, id + '-box-' + unit);
    mk(p.plot, 'line', {x1: px - halfW, x2: px + halfW, y1: p.y(med[i]), y2: p.y(med[i]), stroke: '#ff7f0e', 'stroke-width': 2.8}, id + '-median-' + unit);
  });
  finishPanel(p, {tickLen: 11, spine: 2.2, tickSize: 39, xTickSize: 36.6, xTicks: ticks, xLabels: cats, xRotate: -35, xDx: -3, xDy: 41, xAnchor: 'end',
    yTicks: yTicks, yLabels: yLabels, yGap: 7});
}
const lowBox = {t: 1621.7, b: 1993.7};
boxPanel('g', {l: 196.9, r: 1046, t: lowBox.t, b: lowBox.b}, [-58.72, 3.83], gCategories, gSeasons, gWhiskerLow, gQ1, gMedian, gQ3, gWhiskerHigh, 0.5, gYTicks, gYTickLabels);
boxPanel('h', {l: 1185.7, r: 2035, t: lowBox.t, b: lowBox.b}, [1.33, 17.18], hCategories, hSeasons, hWhiskerLow, hQ1, hMedian, hQ3, hWhiskerHigh, 0.44, hYTicks, hYTickLabels);
</script>
</body>
</html>
